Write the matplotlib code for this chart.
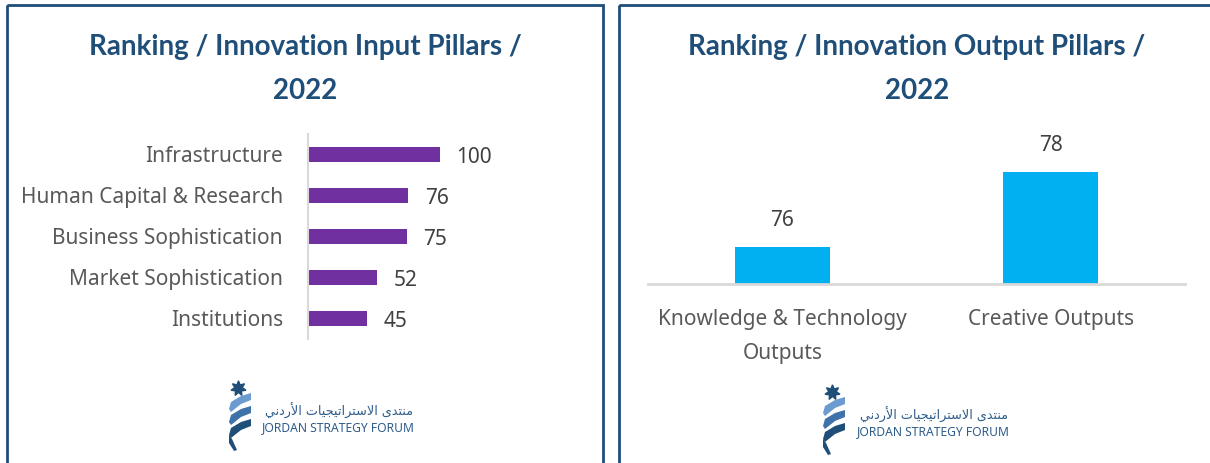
import matplotlib
matplotlib.use("Agg")
import matplotlib.pyplot as plt
from matplotlib.patches import Rectangle, Polygon
from matplotlib.transforms import Affine2D

# ---------------- data ----------------
input_pillars = ["Infrastructure", "Human Capital & Research", "Business Sophistication",
                 "Market Sophistication", "Institutions"]
input_ranks = [100, 76, 75, 52, 45]

output_pillars = ["Knowledge & Technology\nOutputs", "Creative Outputs"]
output_ranks = [76, 78]

title_left = ["Ranking / Innovation Input Pillars /", "2022"]
title_right = ["Ranking / Innovation Output Pillars /", "2022"]

logo_en = "JORDAN STRATEGY FORUM"
# "منتدى الاستراتيجيات الأردني" in Arabic presentation forms (logical order)
logo_ar_logical = ("\uFEE3\uFEE8\uFE98\uFEAA\uFEEF "
                   "\uFE8D\uFEFB\uFEB3\uFE98\uFEAE\uFE8D\uFE97\uFEF4\uFEA0\uFEF4\uFE8E\uFE95 "
                   "\uFE8D\uFEF7\uFEAD\uFEA9\uFEE7\uFEF2")
logo_ar = logo_ar_logical[::-1]

# ---------------- style ----------------
W, H = 1210, 463
NAVY = "#1F4E79"
PURPLE = "#7030A0"
CYAN = "#00B0F0"
LABEL = "#595959"
VALUE = "#404040"
AXIS = "#D9D9D9"
FONT = "Noto Sans"
TFONT = "Lato"

fig = plt.figure(figsize=(W / 100, H / 100), dpi=100)
fig.patch.set_facecolor("white")
pix = Affine2D().scale(1 / W, -1 / H).translate(0, 1) + fig.transFigure


def ax_rect(x0, y0, x1, y1):
    return [x0 / W, 1 - y1 / H, (x1 - x0) / W, (y1 - y0) / H]


# panel borders
fig.patches.append(Rectangle((6.5, 4.5), 596, 470, transform=pix, fill=False,
                             edgecolor=NAVY, linewidth=2.0))
fig.patches.append(Rectangle((618.5, 4.5), 620, 470, transform=pix, fill=False,
                             edgecolor=NAVY, linewidth=2.0))

# titles
for cx, lines in [(305, title_left), (917, title_right)]:
    for y, t in zip([47, 91], lines):
        fig.text(cx / W, 1 - y / H, t, ha="center", va="center", color=NAVY,
                 fontsize=20, fontweight="bold", family=TFONT)

# ---------------- left chart ----------------
ax1 = fig.add_axes(ax_rect(308, 134, 540, 339))
ypos = list(range(len(input_pillars)))
ax1.barh(ypos, input_ranks, height=0.37, color=PURPLE)
ax1.set_ylim(len(input_pillars) - 0.5, -0.5)
ax1.set_xlim(0, 176)
ax1.set_yticks(ypos)
ax1.set_yticklabels(input_pillars, family=FONT, fontsize=15, color=LABEL)
ax1.tick_params(axis="y", length=0, pad=18)
ax1.set_xticks([])
for s in ["top", "right", "bottom"]:
    ax1.spines[s].set_visible(False)
ax1.spines["left"].set_color(AXIS)
ax1.spines["left"].set_linewidth(1.5)
for i, v in enumerate(input_ranks):
    ax1.annotate(str(v), (v, i), xytext=(12, -2), textcoords="offset points",
                 ha="left", va="center", family=FONT, fontsize=15, color=VALUE)
ax1.patch.set_alpha(0)

# ---------------- right chart ----------------
ax2 = fig.add_axes(ax_rect(648, 128, 1185, 284))
xpos = list(range(len(output_pillars)))
ax2.bar(xpos, output_ranks, width=0.354, color=CYAN, bottom=0)
ax2.set_xlim(-0.5, len(output_pillars) - 0.5)
ax2.set_ylim(75, 79.18)
ax2.set_xticks(xpos)
ax2.set_xticklabels(output_pillars, family=FONT, fontsize=15, color=LABEL, linespacing=1.8)
ax2.tick_params(axis="x", length=0, pad=18)
ax2.set_yticks([])
for s in ["top", "right", "left"]:
    ax2.spines[s].set_visible(False)
ax2.spines["bottom"].set_color(AXIS)
ax2.spines["bottom"].set_linewidth(2)
for i, v in enumerate(output_ranks):
    ax2.annotate(str(v), (i, v), xytext=(0, 19), textcoords="offset points",
                 ha="center", va="center", family=FONT, fontsize=15, color=VALUE)
ax2.patch.set_alpha(0)


# ---------------- logos ----------------
def draw_logo(sx, sy, tx):
    fig.lines.append(plt.Line2D([sx], [sy], transform=pix, marker=(7, 1, 0),
                                markersize=11, color=NAVY, linestyle="none"))
    blues = ["#6B9BD1", "#3F72AA", "#1F4E79"]
    for k in range(3):
        o = 13 * k
        pts = [(sx - 9, sy + 21 + o), (sx - 7, sy + 14 + o), (sx + 3, sy + 8 + o),
               (sx + 13, sy + 5 + o), (sx + 13, sy + 12 + o), (sx + 3, sy + 16 + o),
               (sx - 7, sy + 24 + o)]
        fig.patches.append(Polygon(pts, closed=True, transform=pix,
                                   facecolor=blues[k], edgecolor="none"))
    tail = [(sx - 9, sy + 47), (sx - 6, sy + 51), (sx - 1, sy + 62), (sx - 4, sy + 63),
            (sx - 9, sy + 55)]
    fig.patches.append(Polygon(tail, closed=True, transform=pix,
                               facecolor="#1F4E79", edgecolor="none"))
    fig.text((tx + 151) / W, 1 - (sy + 23) / H, logo_ar, ha="right", va="center",
             family="DejaVu Sans", fontsize=9.2, color="#2E5C8A")
    fig.text(tx / W, 1 - (sy + 40) / H, logo_en, ha="left", va="center",
             family=FONT, fontsize=8.7, color="#2E5C8A")


draw_logo(238, 388, 262)
draw_logo(832, 392, 857)

fig.savefig("out.png", dpi=100, facecolor="white")
